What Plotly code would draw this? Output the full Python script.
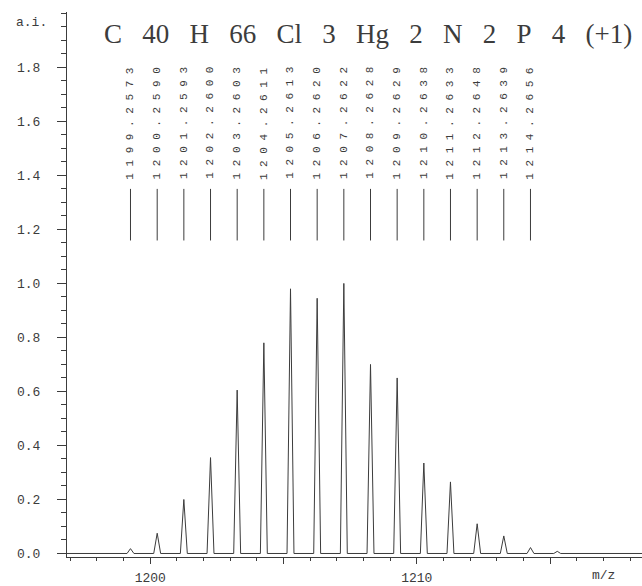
import plotly.graph_objects as go

# ---- data ----
label_mz = ["1199.2573", "1200.2590", "1201.2593", "1202.2600", "1203.2603",
            "1204.2611", "1205.2613", "1206.2620", "1207.2622", "1208.2628",
            "1209.2629", "1210.2638", "1211.2633", "1212.2648", "1213.2639",
            "1214.2656"]
peak_mz = [1199.257, 1200.259, 1201.259, 1202.260, 1203.260, 1204.261,
           1205.261, 1206.262, 1207.262, 1208.263, 1209.263, 1210.264,
           1211.263, 1212.265, 1213.264, 1214.266, 1215.27]
peak_height = [0.018, 0.075, 0.20, 0.355, 0.605, 0.78, 0.98, 0.945, 1.0,
               0.70, 0.65, 0.335, 0.265, 0.11, 0.065, 0.022, 0.008]
formula_tokens = ["C", "40", "H", "66", "Cl", "3", "Hg", "2", "N", "2", "P", "4", "(+1)"]
y_tickvals = [0.0, 0.2, 0.4, 0.6, 0.8, 1.0, 1.2, 1.4, 1.6, 1.8]
y_ticktext = ["0.0", "0.2", "0.4", "0.6", "0.8", "1.0", "1.2", "1.4", "1.6", "1.8"]
x_tickvals = [1200, 1205, 1210, 1215]
x_ticktext = ["1200", "", "1210", ""]

X_RANGE = [1196.875, 1218.45]
Y_RANGE = [-0.013, 2.005]
HALF_W = 0.13
INK = "#3c3c3c"
MONO = "Liberation Mono, DejaVu Sans Mono, monospace"

# spectrum trace built from the peak list
sx, sy = [X_RANGE[0]], [0.0]
for c, h in zip(peak_mz, peak_height):
    sx += [c - HALF_W, c, c + HALF_W]
    sy += [0.0, h, 0.0]
sx.append(X_RANGE[1])
sy.append(0.0)

fig = go.Figure()
fig.add_trace(go.Scatter(x=sx, y=sy, mode="lines",
                         line=dict(color=INK, width=1), hoverinfo="skip",
                         showlegend=False))

# label stick lines
lx, ly = [], []
for t in label_mz:
    v = float(t)
    lx += [v, v, None]
    ly += [1.159, 1.35, None]
fig.add_trace(go.Scatter(x=lx, y=ly, mode="lines",
                         line=dict(color=INK, width=1), hoverinfo="skip",
                         showlegend=False))

annotations = []
for t in label_mz:
    annotations.append(dict(
        x=float(t), y=1.593, xref="x", yref="y",
        text="\u00a0".join(list(t)), textangle=-90, showarrow=False,
        font=dict(family=MONO, size=11, color=INK),
        xanchor="center", yanchor="middle"))

gap = "\u00a0" * 3
annotations.append(dict(
    x=0.5, y=1, xref="paper", yref="paper",
    text=gap.join(formula_tokens), showarrow=False,
    xshift=13, yshift=-22,
    font=dict(family="Liberation Serif, serif", size=27, color=INK),
    xanchor="center", yanchor="middle"))

annotations.append(dict(
    x=0, y=1.965, xref="paper", yref="y", text="a.i.", showarrow=False,
    xanchor="left", xshift=-53,
    font=dict(family=MONO, size=13, color=INK)))

annotations.append(dict(
    x=1217.0, y=0, xref="x", yref="paper", text="m/z", showarrow=False,
    xanchor="center", yanchor="middle", yshift=-18,
    font=dict(family=MONO, size=13, color=INK)))

fig.update_layout(
    width=642, height=586,
    margin=dict(l=67, r=0, t=12, b=26),
    paper_bgcolor="white", plot_bgcolor="white",
    showlegend=False,
    annotations=annotations,
    xaxis=dict(range=X_RANGE, showgrid=False, zeroline=False,
               showline=True, linecolor=INK, linewidth=1,
               tickmode="array", tickvals=x_tickvals, ticktext=x_ticktext,
               ticks="outside", ticklen=6, tickcolor=INK, tickwidth=1,
               minor=dict(tick0=1200, dtick=1, ticks="outside", ticklen=3,
                          tickcolor=INK, showgrid=False),
               tickfont=dict(family=MONO, size=13, color=INK),
               ticklabelstandoff=2),
    yaxis=dict(range=Y_RANGE, showgrid=False, zeroline=False,
               showline=True, linecolor=INK, linewidth=1,
               tickmode="array", tickvals=y_tickvals, ticktext=y_ticktext,
               ticks="outside", ticklen=9, tickcolor=INK, tickwidth=1,
               minor=dict(tick0=0, dtick=0.05, ticks="outside", ticklen=5,
                          tickcolor=INK, showgrid=False),
               tickfont=dict(family=MONO, size=13, color=INK),
               ticklabelstandoff=14),
)

fig.write_html("out.html",
               config={"displayModeBar": False},
               post_script="document.body.style.margin='0';"
                           "document.body.style.overflow='hidden';")
